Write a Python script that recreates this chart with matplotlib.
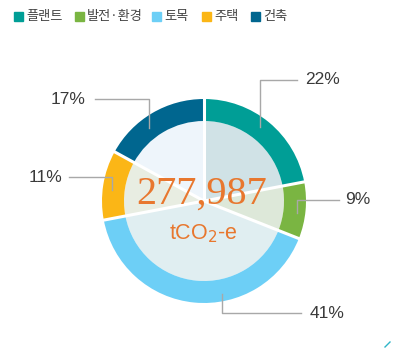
import numpy as np
import matplotlib.pyplot as plt
from matplotlib.patches import Rectangle

plt.rcParams['font.family'] = ['Noto Sans CJK KR', 'DejaVu Sans']

# Emission share by business sector
sectors = ['플랜트', '발전·환경', '토목', '주택', '건축']
shares = [22, 9, 41, 11, 17]
colors = ['#009e96', '#7ab542', '#6dcff6', '#fbb616', '#00668f']
inner_colors = ['#d0e2e6', '#dde8d9', '#e0eef1', '#e8ede2', '#eef5fb']
total = '277,987'
unit = 'tCO$_2$-e'

W, H = 396, 352
fig = plt.figure(figsize=(W / 100, H / 100), dpi=100)
ax = fig.add_axes([0, 0, 1, 1])


def y(v):
    # pixel row measured from the top
    return H - v


cx, cy = 204, y(201)
R = 102
ax.pie(shares, startangle=90, counterclock=False, radius=80, center=(cx, cy),
       colors=inner_colors, wedgeprops=dict(edgecolor='none'))
ax.pie(shares, startangle=90, counterclock=False, radius=R, center=(cx, cy),
       colors=colors, wedgeprops=dict(width=22, edgecolor='none'))

# white spokes between slices
bounds = 90 - 360 * np.cumsum([0] + shares[:-1]) / sum(shares)
for a in np.radians(bounds):
    ax.plot([cx, cx + R * 1.02 * np.cos(a)], [cy, cy + R * 1.02 * np.sin(a)],
            color='white', lw=2.2, solid_capstyle='butt')

ax.set_xlim(0, W)
ax.set_ylim(0, H)
ax.set_aspect('equal')
ax.axis('off')

# leader lines in slice order: (points), label anchor, alignment
leaders = [
    ([(260, 127), (260, 80), (297, 80)], (305, 80), 'left'),
    ([(297, 213), (297, 200), (339, 200)], (345, 200), 'left'),
    ([(222, 294), (222, 313), (301, 313)], (310, 313), 'left'),
    ([(112, 190), (112, 177), (69, 177)], (62, 178), 'right'),
    ([(149, 128), (149, 99), (95, 99)], (85, 100), 'right'),
]
for (pts, (lx, ly), ha), s in zip(leaders, shares):
    ax.plot([p[0] for p in pts], [y(p[1]) for p in pts], color='#a8a8a8', lw=1)
    ax.text(lx, y(ly), f'{s}%', ha=ha, va='center', fontsize=12.5,
            color='#3a3a3a', family=['Liberation Sans', 'DejaVu Sans'])

ax.text(cx - 2, y(194), total, ha='center', va='center', fontsize=29,
        color='#e8772e', family=['Liberation Serif'])
ax.text(cx - 1, y(234), unit, ha='center', va='center', fontsize=15.5,
        color='#e8772e', family=['Liberation Sans', 'DejaVu Sans'])

# legend row
legend_x = [14, 75, 152, 202, 251]
for lx, name, c in zip(legend_x, sectors, colors):
    ax.add_patch(Rectangle((lx, y(21)), 9, 9, color=c))
    ax.text(lx + 12, y(16.5), name, ha='left', va='center', fontsize=9.5,
            color='#444444')

ax.plot([385, 390], [y(347), y(342)], color='#2fb5c8', lw=1)

fig.savefig('out.png', dpi=100)
